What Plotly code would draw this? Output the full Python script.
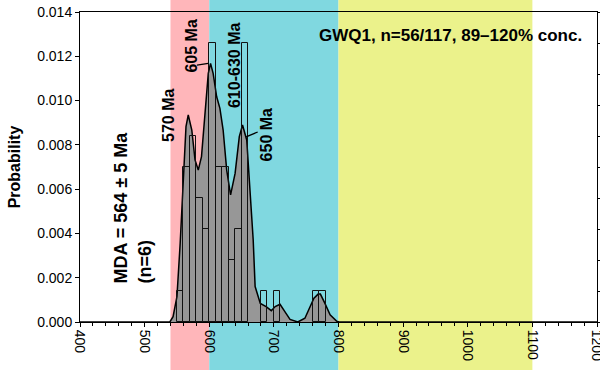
import plotly.graph_objects as go

# ---- data ----
bin_left = [550, 560, 570, 580, 590, 600, 610, 620, 630, 640, 650, 680, 700, 760, 770]
bin_counts = [1, 5, 6, 4, 3, 9, 5, 5, 2, 3, 9, 1, 1, 1, 1]
prob_per_grain = 0.0014
bin_width = 10

kde_age = [400, 539, 544, 550, 555, 560, 564, 567.5, 573, 578, 583, 588, 593.5, 598.5,
           602, 606, 611.5, 616.5, 621.5, 627, 633, 640, 646.5, 651.5, 658, 663, 668,
           671, 675, 679, 688, 696, 702, 709.5, 717, 725, 737, 748, 756, 762, 768.5,
           772, 779, 787, 797, 801, 1200]
kde_prob = [0, 0, 0.00024, 0.00114, 0.00355, 0.00686, 0.00882, 0.00935, 0.00867, 0.00732,
            0.00686, 0.00747, 0.00943, 0.01123, 0.01168, 0.01123, 0.01017, 0.00965,
            0.00867, 0.00686, 0.00574, 0.00671, 0.00837, 0.0089, 0.00822, 0.00611,
            0.0037, 0.0016, 0.0012, 0.00084, 0.00069, 0.00051, 0.0007, 0.0008, 0.00047,
            0.00012, 0, 0.00017, 0.00069, 0.00107, 0.00126, 0.00126, 0.00084, 0.00032,
            0.00004, 0, 0]

bands = [(540, 600, "#ffb6ba"), (600, 800, "#80d8e0"), (800, 1100, "#ebf28b")]

x_range = [400, 1200]
y_range = [0, 0.014]
y_ticks = [0, 0.002, 0.004, 0.006, 0.008, 0.010, 0.012, 0.014]
x_ticks = [400, 500, 600, 700, 800, 900, 1000, 1100, 1200]

labels = [  # text, x, y
    ("570 Ma", 537.7, 0.00935),
    ("605 Ma", 573.3, 0.01244),
    ("610-630 Ma", 638.3, 0.01156),
    ("650 Ma", 688.6, 0.00845),
]
leaders = [((581, 0.0116), (598.5, 0.01168)), ((657, 0.00836), (675, 0.00858))]

FONT = "Arial, Liberation Sans, sans-serif"

bar_x = [b + bin_width / 2 for b in bin_left]
bar_y = [c * prob_per_grain for c in bin_counts]

fig = go.Figure()
fig.add_trace(go.Scatter(
    x=kde_age, y=kde_prob, mode="lines", fill="tozeroy",
    fillcolor="#979797", line=dict(color="black", width=1.5),
    showlegend=False, hoverinfo="skip"))
fig.add_trace(go.Bar(
    x=bar_x, y=bar_y, width=bin_width, yaxis="y2",
    marker=dict(color="rgba(0,0,0,0)", line=dict(color="#111111", width=1)),
    showlegend=False))

for x0, x1, col in bands:
    fig.add_shape(type="rect", xref="x", yref="paper", x0=x0, x1=x1,
                  y0=-0.2, y1=1.1, fillcolor=col, line=dict(width=0),
                  layer="below")

for (a, b) in leaders:
    fig.add_shape(type="line", xref="x", yref="y", x0=a[0], y0=a[1], x1=b[0], y1=b[1],
                  line=dict(color="black", width=1.3))

for t, x, y in labels:
    fig.add_annotation(x=x, y=y, xref="x", yref="y", text="<b>%s</b>" % t,
                       showarrow=False, textangle=-90,
                       font=dict(family=FONT, size=16, color="black"))

fig.add_annotation(x=481.2, y=0.00519, xref="x", yref="y",
                   text="<b>MDA = 564 ± 5 Ma<br>(n=6)</b>", showarrow=False,
                   textangle=-90, align="left",
                   font=dict(family=FONT, size=18, color="black"))
fig.add_annotation(x=973, y=0.01296, xref="x", yref="y",
                   text="<b>GWQ1, n=56/117, 89–120% conc.</b>", showarrow=False,
                   font=dict(family=FONT, size=17, color="black"))

fig.update_layout(
    width=600, height=370,
    margin=dict(l=80, r=3, t=12, b=48, autoexpand=False),
    paper_bgcolor="white", plot_bgcolor="rgba(0,0,0,0)",
    bargap=0,
    font=dict(family=FONT, color="black"),
    xaxis=dict(range=x_range, tickvals=x_ticks, tickangle=90,
               ticklabeloverflow="allow", automargin=False,
               showgrid=False, zeroline=False, showline=True, linecolor="black",
               linewidth=1, mirror=True, ticks="outside", ticklen=4, tickcolor="black",
               tickfont=dict(size=14, family=FONT),
               minor=dict(dtick=20, ticks="outside", ticklen=3, tickcolor="black")),
    yaxis=dict(range=y_range, tickvals=y_ticks, tickformat=".3f", automargin=False,
               showgrid=False, zeroline=False, showline=True, linecolor="black",
               linewidth=1, ticks="outside", ticklen=4, tickcolor="black",
               tickfont=dict(size=14, family=FONT),
               title=dict(text="<b>Probability</b>", font=dict(size=16, family=FONT),
                          standoff=12)),
    yaxis2=dict(range=y_range, overlaying="y", side="right", automargin=False,
                tickvals=[i * prob_per_grain for i in range(11)],
                showticklabels=False, showgrid=False, zeroline=False, showline=True,
                linecolor="black", linewidth=1, ticks="outside", ticklen=3,
                tickcolor="black"),
)

fig.write_html("out.html")
